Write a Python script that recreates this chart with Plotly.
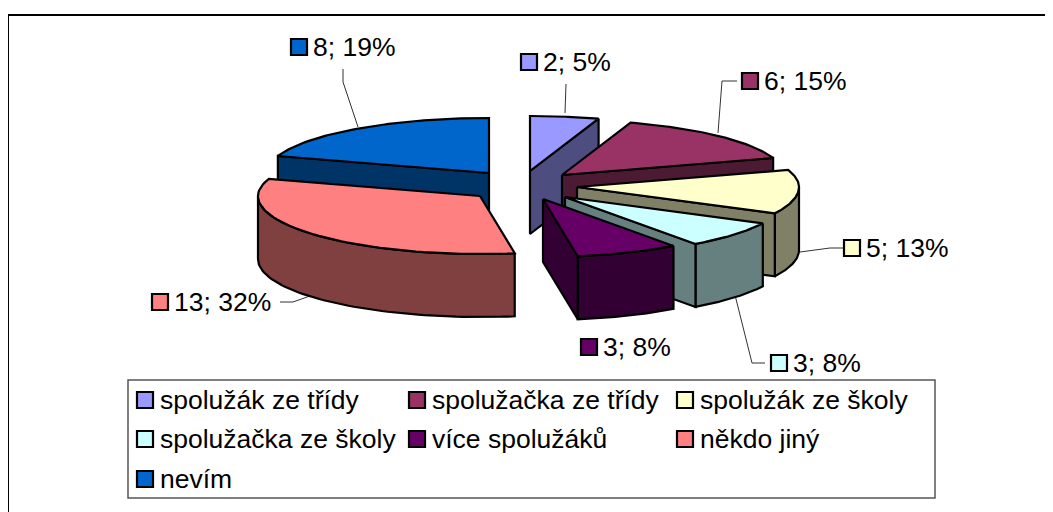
import numpy as np
import plotly.graph_objects as go

categories = ["spolužák ze třídy", "spolužačka ze třídy", "spolužák ze školy",
              "spolužačka ze školy", "více spolužáků", "někdo jiný", "nevím"]
counts = [2, 6, 5, 3, 3, 13, 8]
percents = [5, 15, 13, 8, 8, 32, 19]
top_colors = ["#9999FF", "#993366", "#FFFFCC", "#CCFFFF", "#660066", "#FF8080", "#0066CC"]
side_colors = ["#4D4D80", "#4D1A33", "#808066", "#668080", "#330033", "#804040", "#003366"]

# where each exploded slice has its tip, in page pixels
tips = [(530, 171), (562, 175), (577, 187), (565, 197), (543, 199), (480, 196), (489, 173)]
RX, RY_BACK, RY_FRONT, DEPTH = 222, 55, 58, 63
# painter's order, back to front
draw_order = [0, 6, 1, 2, 3, 4, 5]

# label layout: swatch centre, text start, leader line
label_swatch = [(529, 62), (750, 81), (852, 248), (779, 363), (589, 347), (160, 302), (299, 47)]
leaders = [
    [(566, 84), (565, 113)],
    [(737, 81), (722, 81), (718, 133)],
    [(843, 248), (830, 248), (800, 252)],
    [(765, 363), (752, 363), (735, 295)],
    [],
    [(280, 302), (293, 302), (310, 296)],
    [(343, 69), (343, 82), (358, 127)],
]
legend_swatch_x = [145, 417, 685]
legend_swatch_y = [400, 439, 479]
FONT = "Liberation Sans"
FONT_SIZE = 26.5

# the page puts the plot 8px in from the corner, so the axes start at 8
PAGE_OFFSET = 8
W, H = 1053, 512


def rim_xy(tip, t):
    ry = np.where(np.cos(t) > 0, RY_BACK, RY_FRONT)
    return tip[0] + RX * np.sin(t), tip[1] - ry * np.cos(t)


def add_poly(fig, xs, ys, color):
    fig.add_trace(go.Scatter(x=list(xs), y=list(ys), mode="lines", fill="toself", fillcolor=color,
                             line=dict(color="black", width=2.2), hoverinfo="skip", showlegend=False))


fig = go.Figure()
edges = np.cumsum([0] + counts) / sum(counts) * 2 * np.pi

for line in leaders:
    if line:
        fig.add_trace(go.Scatter(x=[p[0] for p in line], y=[p[1] for p in line], mode="lines",
                                 line=dict(color="#333333", width=1), hoverinfo="skip", showlegend=False))

for i in draw_order:
    tip = tips[i]
    t0, t1 = edges[i], edges[i + 1]
    ts = np.linspace(t0, t1, 60)
    x, y = rim_xy(tip, ts)

    # outer wall, only the part that faces the viewer
    lo, hi = max(t0, np.pi / 2), min(t1, 3 * np.pi / 2)
    if lo < hi:
        tw = np.linspace(lo, hi, 60)
        wx, wy = rim_xy(tip, tw)
        add_poly(fig, np.r_[wx, wx[::-1], wx[0]], np.r_[wy, wy[::-1] + DEPTH, wy[0]], side_colors[i])

    # the cut face that can be seen
    if np.sin(t1) > 1e-6:
        ex, ey = x[-1], y[-1]
    elif np.sin(t0) < -1e-6:
        ex, ey = x[0], y[0]
    else:
        ex = None
    if ex is not None:
        add_poly(fig, [tip[0], ex, ex, tip[0], tip[0]],
                 [tip[1], ey, ey + DEPTH, tip[1] + DEPTH, tip[1]], side_colors[i])

    # top
    add_poly(fig, np.r_[tip[0], x, tip[0]], np.r_[tip[1], y, tip[1]], top_colors[i])

# swatches
legend_pos = [(legend_swatch_x[k % 3], legend_swatch_y[k // 3]) for k in range(len(categories))]
sw_x = [p[0] for p in label_swatch] + [p[0] for p in legend_pos]
sw_y = [p[1] for p in label_swatch] + [p[1] for p in legend_pos]
fig.add_trace(go.Scatter(x=sw_x, y=sw_y, mode="markers", hoverinfo="skip", showlegend=False,
                         marker=dict(symbol="square", size=16, color=top_colors * 2,
                                     line=dict(color="black", width=2.2))))

for i, (px_, py_) in enumerate(label_swatch):
    fig.add_annotation(x=px_ + 12, y=py_, text=f"{counts[i]}; {percents[i]}%", showarrow=False,
                       xanchor="left", yanchor="middle", font=dict(family=FONT, size=FONT_SIZE, color="black"))
for i, (px_, py_) in enumerate(legend_pos):
    fig.add_annotation(x=px_ + 13, y=py_, text=categories[i], showarrow=False,
                       xanchor="left", yanchor="middle", font=dict(family=FONT, size=FONT_SIZE, color="black"))

# chart frame runs off the right and bottom of the page, legend box inside it
fig.add_shape(type="rect", x0=8, y0=15, x1=W + 20, y1=H + 20, line=dict(color="black", width=2), layer="below")
fig.add_shape(type="rect", x0=128, y0=380, x1=935, y1=498, line=dict(color="#555555", width=1.5),
              fillcolor="white", layer="below")

fig.update_xaxes(range=[PAGE_OFFSET, W], visible=False, fixedrange=True)
fig.update_yaxes(range=[H, PAGE_OFFSET], visible=False, fixedrange=True)
fig.update_layout(width=W - PAGE_OFFSET, height=H - PAGE_OFFSET, margin=dict(l=0, r=0, t=0, b=0),
                  paper_bgcolor="white", plot_bgcolor="white", showlegend=False)
fig.write_html("out.html")
